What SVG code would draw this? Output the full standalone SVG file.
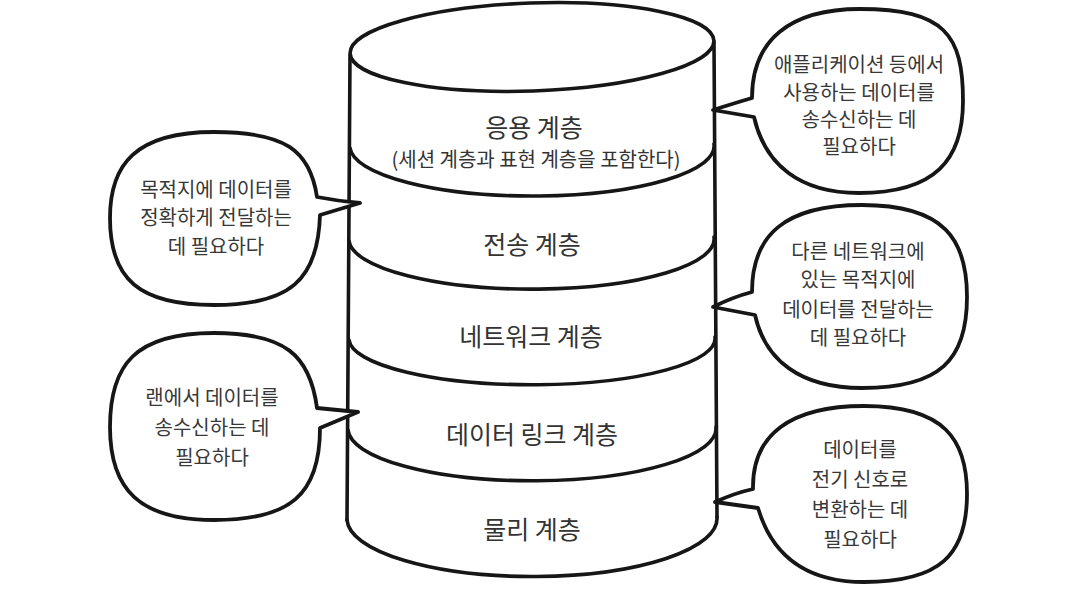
<svg xmlns="http://www.w3.org/2000/svg" width="1092" height="591" viewBox="0 0 1092 591">
<style>
.ln{fill:none;stroke:#161616;stroke-width:3.6;stroke-linecap:round;stroke-linejoin:round}
.bub{fill:#ffffff;stroke:#161616;stroke-width:3.8;stroke-linejoin:round}
.lab{font-family:"Noto Sans CJK KR","Noto Sans",sans-serif;font-size:25px;fill:#333;text-anchor:middle}
.sub{font-family:"Noto Sans CJK KR","Noto Sans",sans-serif;font-size:20px;fill:#333;text-anchor:middle}
.bt{font-family:"Noto Sans CJK KR","Noto Sans",sans-serif;font-size:20px;fill:#383838;text-anchor:middle}
</style>
<rect width="1092" height="591" fill="#ffffff"/>
<g id="cylinder">
  <ellipse class="ln" cx="532" cy="47" rx="182" ry="44" transform="rotate(-2 532 47)"/>
  <path class="ln" d="M350,55 L347,520"/>
  <path class="ln" d="M714,42 L717,517"/>
</g>
<g id="layer-application">
  <path class="ln" d="M350,148 A182,50 0 0 0 714,144"/>
  <text class="lab" x="534" y="137">응용 계층</text>
  <text class="sub" x="536" y="167">(세션 계층과 표현 계층을 포함한다)</text>
</g>
<g id="layer-transport">
  <path class="ln" d="M349,241 A182,50 0 0 0 714,237"/>
  <text class="lab" x="532" y="254">전송 계층</text>
</g>
<g id="layer-network">
  <path class="ln" d="M349,340 A182,46 0 0 0 715,337"/>
  <text class="lab" x="531" y="346">네트워크 계층</text>
</g>
<g id="layer-datalink">
  <path class="ln" d="M348,430 A183,52 0 0 0 716,427"/>
  <text class="lab" x="532" y="444">데이터 링크 계층</text>
</g>
<g id="layer-physical">
  <path class="ln" d="M347,520 A185,58 0 0 0 717,517"/>
  <text class="lab" x="532" y="539">물리 계층</text>
</g>
<g id="bubble-application">
  <path class="bub" d="M752,98 C752,40 790,9 860,9 C945,9 963,35 963,101 C963,160 935,193 859,193 C800,193 765,165 754,117 L713,110 Q735,103 752,98 Z"/>
  <text class="bt" x="859" y="72">애플리케이션 등에서</text>
  <text class="bt" x="859" y="99.5">사용하는 데이터를</text>
  <text class="bt" x="859" y="126.5">송수신하는 데</text>
  <text class="bt" x="859" y="153.5">필요하다</text>
</g>
<g id="bubble-transport">
  <path class="bub" d="M317,197 C310,150 285,132 214,132 C135,132 110,165 110,218 C110,280 140,305 214,305 C290,305 318,280 320,215 L360,203 Q338,201 317,197 Z"/>
  <text class="bt" x="216" y="197">목적지에 데이터를</text>
  <text class="bt" x="216" y="225">정확하게 전달하는</text>
  <text class="bt" x="216" y="254">데 필요하다</text>
</g>
<g id="bubble-network">
  <path class="bub" d="M752,292 C752,235 785,205 862,205 C945,205 967,240 967,297 C967,360 940,388 862,388 C800,388 765,360 755,315 L713,307 Q733,297 752,292 Z"/>
  <text class="bt" x="858" y="259">다른 네트워크에</text>
  <text class="bt" x="858" y="287">있는 목적지에</text>
  <text class="bt" x="858" y="317">데이터를 전달하는</text>
  <text class="bt" x="858" y="345">데 필요하다</text>
</g>
<g id="bubble-datalink">
  <path class="bub" d="M317,408 C310,355 285,333 214,333 C135,333 110,365 110,427 C110,490 140,520 214,520 C290,520 320,495 320,428 L358,412 Q338,410 317,408 Z"/>
  <text class="bt" x="212" y="405">랜에서 데이터를</text>
  <text class="bt" x="212" y="435">송수신하는 데</text>
  <text class="bt" x="212" y="465">필요하다</text>
</g>
<g id="bubble-physical">
  <path class="bub" d="M753,489 C752,435 790,406 864,406 C945,406 967,440 967,494 C967,555 940,582 864,582 C805,582 772,555 758,508 L715,502 Q735,493 753,489 Z"/>
  <text class="bt" x="860" y="457">데이터를</text>
  <text class="bt" x="860" y="487">전기 신호로</text>
  <text class="bt" x="860" y="517">변환하는 데</text>
  <text class="bt" x="860" y="547">필요하다</text>
</g>
<g id="connectors"></g>
</svg>
